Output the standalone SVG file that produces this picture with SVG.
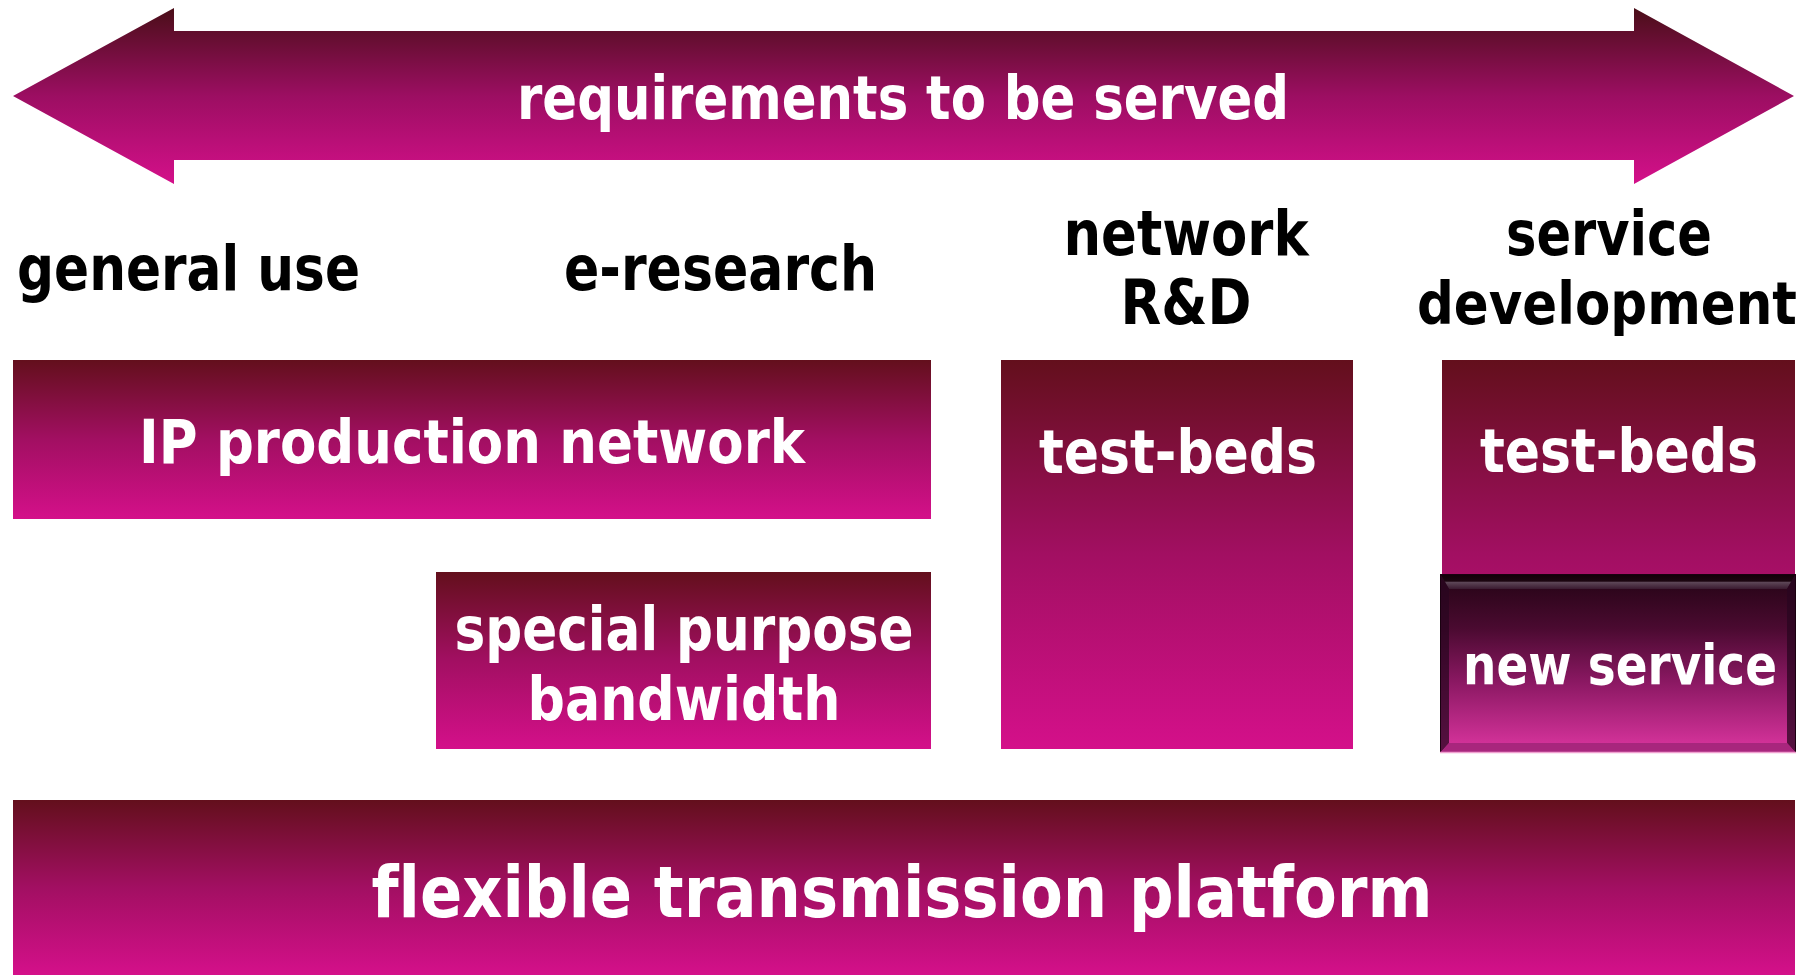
<svg xmlns="http://www.w3.org/2000/svg" width="1816" height="975" viewBox="0 0 1816 975">
<defs>
<linearGradient id="g" x1="0" y1="0" x2="0" y2="1">
<stop offset="0" stop-color="#630f1c"/>
<stop offset="0.5" stop-color="#a20f62"/>
<stop offset="1" stop-color="#d4108a"/>
</linearGradient>
<linearGradient id="ga" x1="0" y1="0" x2="0" y2="1">
<stop offset="0" stop-color="#4a0e18"/>
<stop offset="0.5" stop-color="#9c0e62"/>
<stop offset="1" stop-color="#d4108a"/>
</linearGradient>
<linearGradient id="gt2" gradientUnits="userSpaceOnUse" x1="0" y1="360" x2="0" y2="749">
<stop offset="0" stop-color="#630f1c"/>
<stop offset="0.5" stop-color="#a20f62"/>
<stop offset="1" stop-color="#d4108a"/>
</linearGradient>
<linearGradient id="gn" x1="0" y1="0" x2="0" y2="1">
<stop offset="0" stop-color="#230414"/>
<stop offset="0.3" stop-color="#4a0a30"/>
<stop offset="0.6" stop-color="#8a1862"/>
<stop offset="1" stop-color="#dc35a0"/>
</linearGradient>
<linearGradient id="gtop" x1="0" y1="0" x2="0" y2="1">
<stop offset="0" stop-color="#120008"/>
<stop offset="0.45" stop-color="#1c0510"/>
<stop offset="0.5" stop-color="#5e4858"/>
<stop offset="1" stop-color="#3a1a30"/>
</linearGradient>
<style>
text{font-family:"DejaVu Sans Condensed","DejaVu Sans",sans-serif;font-weight:bold;font-variant-ligatures:none;}
.w{fill:#ffffff;}
.k{fill:#000000;}
</style>
</defs>

<g id="arrow">
<polygon points="13,96 174,8 174,31 1634,31 1634,8 1794,96 1634,184 1634,160 174,160 174,184" fill="url(#ga)"/>
<text class="w" x="903" y="119" font-size="60" text-anchor="middle" textLength="772" lengthAdjust="spacingAndGlyphs">requirements to be served</text>
</g>

<g id="label-general-use">
<text class="k" x="17" y="290" font-size="62" textLength="343" lengthAdjust="spacingAndGlyphs">general use</text>
</g>
<g id="label-e-research">
<text class="k" x="564" y="290" font-size="62" textLength="313" lengthAdjust="spacingAndGlyphs">e-research</text>
</g>
<g id="label-network-rd">
<text class="k" x="1186" y="255" font-size="62" text-anchor="middle" textLength="245" lengthAdjust="spacingAndGlyphs">network</text>
<text class="k" x="1186" y="324" font-size="62" text-anchor="middle" textLength="131" lengthAdjust="spacingAndGlyphs">R&amp;D</text>
</g>
<g id="label-service-development">
<text class="k" x="1609" y="255" font-size="62" text-anchor="middle" textLength="206" lengthAdjust="spacingAndGlyphs">service</text>
<text class="k" x="1607" y="324" font-size="58" text-anchor="middle" textLength="380" lengthAdjust="spacingAndGlyphs">development</text>
</g>

<g id="ip-production-network">
<rect x="13" y="360" width="918" height="159" fill="url(#g)"/>
<text class="w" x="472" y="463" font-size="60" text-anchor="middle" textLength="666" lengthAdjust="spacingAndGlyphs">IP production network</text>
</g>

<g id="special-purpose-bandwidth">
<rect x="436" y="572" width="495" height="177" fill="url(#g)"/>
<text class="w" x="684" y="650" font-size="60" text-anchor="middle" textLength="459" lengthAdjust="spacingAndGlyphs">special purpose</text>
<text class="w" x="684" y="720" font-size="60" text-anchor="middle" textLength="313" lengthAdjust="spacingAndGlyphs">bandwidth</text>
</g>

<g id="test-beds-network">
<rect x="1001" y="360" width="352" height="389" fill="url(#g)"/>
<text class="w" x="1178" y="473" font-size="60" text-anchor="middle" textLength="278" lengthAdjust="spacingAndGlyphs">test-beds</text>
</g>

<g id="test-beds-service">
<rect x="1442" y="360" width="353" height="215" fill="url(#gt2)"/>
<text class="w" x="1619" y="472" font-size="60" text-anchor="middle" textLength="278" lengthAdjust="spacingAndGlyphs">test-beds</text>
</g>

<g id="new-service">
<rect x="1440.5" y="574.5" width="355" height="178" fill="url(#gn)" stroke="#1a0010" stroke-width="1"/>
<polygon points="1441,575 1795,575 1787,589 1449,589" fill="url(#gtop)"/>
<polygon points="1441,575 1449,589 1449,743 1441,752" fill="#2a0620" opacity="0.75"/>
<polygon points="1795,575 1787,589 1787,743 1795,752" fill="#2a0620" opacity="0.75"/>
<polygon points="1441,752 1449,743 1787,743 1795,752" fill="#a02478" opacity="0.85"/>
<line x1="1440" y1="752.5" x2="1796" y2="752.5" stroke="#f0a0d0" stroke-width="1.5"/>
<text class="w" x="1620" y="684" font-size="56" text-anchor="middle" textLength="314" lengthAdjust="spacingAndGlyphs">new service</text>
</g>

<g id="flexible-transmission-platform">
<rect x="13" y="800" width="1782" height="175" fill="url(#g)"/>
<text class="w" x="902" y="917" font-size="72" text-anchor="middle" textLength="1061" lengthAdjust="spacingAndGlyphs">flexible transmission platform</text>
</g>

<g id="connectors"></g>
</svg>
